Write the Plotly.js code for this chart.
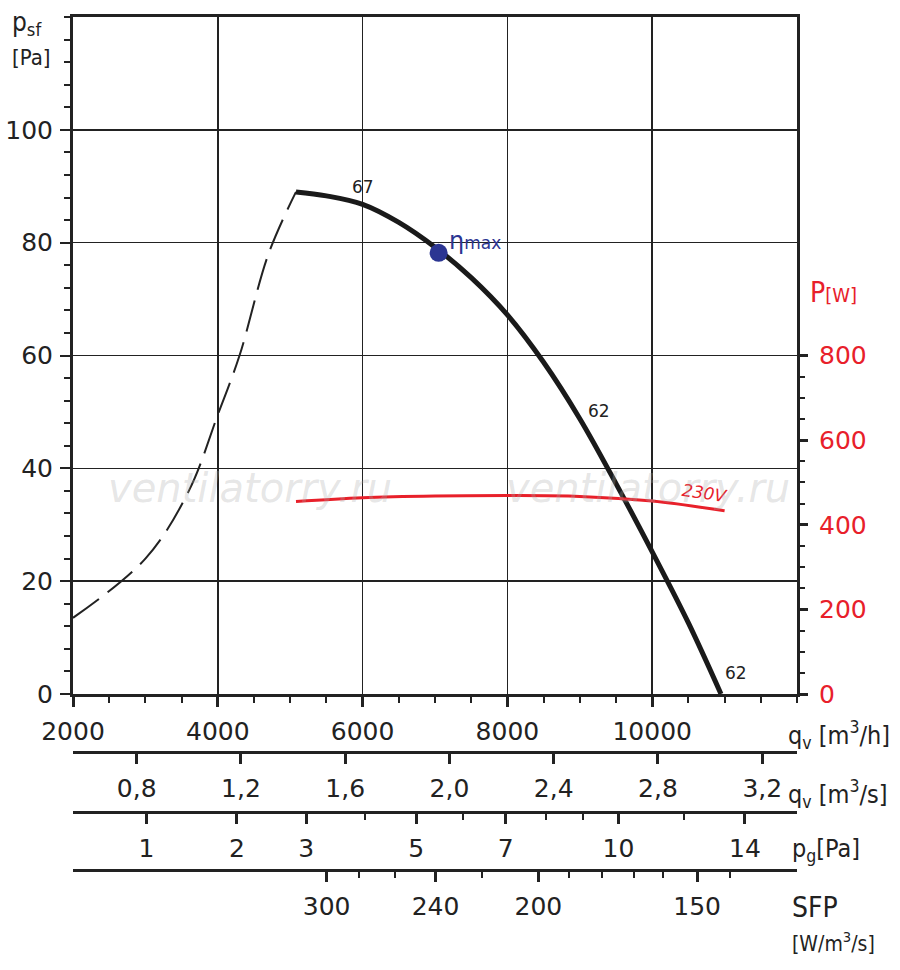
<!DOCTYPE html>
<html><head><meta charset="utf-8">
<script src="https://cdn.plot.ly/plotly-3.0.1.min.js"></script>
<style>body{margin:0;background:#fff}</style></head>
<body><div id="c" style="width:900px;height:970px"></div>
<script>
// pressure curve (solid, operating range)
const qvSolid = [5080, 5500, 6000, 6500, 7000, 7500, 8000, 8500, 9000, 9500, 10000, 10500, 10950];
const psfSolid = [89, 88.3, 86.8, 83.6, 79.2, 73.8, 67.2, 58.8, 48.8, 37.3, 25.2, 12.6, 0];
// pressure curve (dashed, unstable range)
const qvDash = [2000, 3000, 3600, 4000, 4300, 4700, 5080];
const psfDash = [13.5, 24, 36, 49.5, 60, 78, 89];
// power curve 230V
const qvPow = [5080, 6000, 7000, 8000, 9000, 10000, 11000];
const powW = [455, 464, 468, 469, 467, 456, 433];
// eta max point
const etaQv = [7050], etaP = [78.2];
// main axis ticks
const qvMain = [2000, 4000, 6000, 8000, 10000];
// secondary scales
const qvSecTicks = [0.8, 1.2, 1.6, 2.0, 2.4, 2.8, 3.2];
const pgMajor = [1, 2, 3, 5, 7, 10, 14];
const pgMinor = [4, 6, 8, 9, 12];
const pgK = 3015; // qv[m3/h] = pgK*sqrt(pg)
const sfpMajor = [300, 240, 200, 150];
const sfpMajorQv = [5503, 7007, 8428, 10621];
const sfpMinorQv = [5945, 6441, 7655, 8855, 9310, 9752, 10152, 11076];

const F = '"DejaVu Sans", sans-serif';
const FC = '"DejaVu Sans Condensed", "DejaVu Sans", sans-serif';
const dark = '#222';
const red = '#e8202a';
const H = 970, T = 17, B = 10, PH = H - T - B;
const py = p => (H - B - p) / PH;
const px = p => (p - 73) / 724;

const data = [
  {x: qvDash, y: psfDash, mode: 'lines', line: {color: dark, width: 2, dash: '32px,11px', shape: 'spline'}, hoverinfo: 'skip'},
  {x: qvSolid, y: psfSolid, mode: 'lines', line: {color: '#1a1a1a', width: 5, shape: 'spline'}, hoverinfo: 'skip'},
  {x: qvPow, y: powW, yaxis: 'y2', mode: 'lines', line: {color: red, width: 3, shape: 'spline'}, hoverinfo: 'skip'},
  {x: etaQv, y: etaP, mode: 'markers', marker: {color: '#2b3592', size: 18}, hoverinfo: 'skip'},
  {x: [2000, 12000], y: [null, null], xaxis: 'x2', mode: 'lines', hoverinfo: 'skip'},
  {x: [2000, 12000], y: [null, null], xaxis: 'x3', mode: 'lines', hoverinfo: 'skip'},
  {x: [2000, 12000], y: [null, null], xaxis: 'x4', mode: 'lines', hoverinfo: 'skip'}
];

const tf = {family: F, size: 25, color: dark};
function secAxis(pos, vals, text, minorVals) {
  const a = {overlaying: 'x', anchor: 'free', position: pos, range: [2000, 12000], showgrid: false,
    zeroline: false, showline: true, linewidth: 3, linecolor: dark, ticks: 'outside', ticklen: 10,
    tickwidth: 3, tickcolor: dark, tickmode: 'array', tickvals: vals, ticktext: text,
    tickfont: tf, ticklabelstandoff: 3, fixedrange: true};
  if (minorVals) a.minor = {tickmode: 'array', tickvals: minorVals, ticks: 'outside', ticklen: 6, tickwidth: 2, tickcolor: dark, showgrid: false};
  return a;
}
const pwMinor = [];
for (let v = 50; v <= 750; v += 50) if (v % 200) pwMinor.push(v);

function ann(x, y, text, size, color, extra) {
  return Object.assign({x: px(x), y: py(y), xref: 'paper', yref: 'paper', xanchor: 'left', yanchor: 'middle',
    text: text, showarrow: false, font: {family: FC, size: size, color: color || dark}}, extra || {});
}

const layout = {
  width: 900, height: 970, margin: {l: 73, r: 103, t: T, b: B},
  paper_bgcolor: '#fff', plot_bgcolor: '#fff', showlegend: false,
  xaxis: {range: [2000, 12000], tickmode: 'array', tickvals: qvMain, showgrid: true, gridcolor: dark, gridwidth: 1.5,
    zeroline: false, showline: true, mirror: true, linewidth: 3, linecolor: dark, ticks: 'outside',
    ticklen: 10, tickwidth: 3, tickcolor: dark, tickfont: tf, ticklabelstandoff: 3,
    tickformat: 'd', fixedrange: true,
    minor: {tickmode: 'linear', tick0: 2000, dtick: 500, ticks: 'outside', ticklen: 6, tickwidth: 2, tickcolor: dark, showgrid: false}},
  yaxis: {domain: [py(694), 1], range: [0, 120], tickmode: 'array', tickvals: [0, 20, 40, 60, 80, 100],
    showgrid: true, gridcolor: dark, gridwidth: 1.5, zeroline: false, showline: true, linewidth: 3,
    linecolor: dark, ticks: 'outside', ticklen: 10, tickwidth: 2, tickcolor: dark, tickfont: tf,
    ticklabelstandoff: 2, fixedrange: true,
    minor: {dtick: 4, ticks: 'outside', ticklen: 6, tickwidth: 2, tickcolor: dark, showgrid: false}},
  yaxis2: {overlaying: 'y', side: 'right', range: [0, 1600], tickmode: 'array', tickvals: [0, 200, 400, 600, 800],
    showgrid: false, zeroline: false, showline: true, linewidth: 3, linecolor: dark, ticks: 'outside',
    ticklen: 8, tickwidth: 3, tickcolor: dark, tickfont: {family: F, size: 25, color: red},
    ticklabelstandoff: 6, fixedrange: true,
    minor: {tickmode: 'array', tickvals: pwMinor, ticks: 'outside', ticklen: 5, tickwidth: 2, tickcolor: dark, showgrid: false}},
  xaxis2: secAxis(py(752), qvSecTicks.map(v => v * 3600), qvSecTicks.map(v => v.toFixed(1).replace('.', ','))),
  xaxis3: secAxis(py(812), pgMajor.map(v => pgK * Math.sqrt(v)), pgMajor.map(String), pgMinor.map(v => pgK * Math.sqrt(v))),
  xaxis4: secAxis(py(870), sfpMajorQv, sfpMajor.map(String), sfpMinorQv),
  annotations: [
    {x: 6000, y: 89.8, xref: 'x', yref: 'y', text: '67', showarrow: false, font: {family: F, size: 17, color: dark}},
    {x: 9269, y: 50.2, xref: 'x', yref: 'y', text: '62', showarrow: false, font: {family: F, size: 17, color: dark}},
    {x: 11159, y: 3.7, xref: 'x', yref: 'y', text: '62', showarrow: false, font: {family: F, size: 17, color: dark}},
    {x: 7170, y: 80.3, xref: 'x', yref: 'y', xanchor: 'left', yanchor: 'middle', text: 'η<span style="font-size:17px">max</span>', showarrow: false, font: {family: F, size: 24, color: '#2b3592'}},
    {x: 10717, y: 476, xref: 'x', yref: 'y2', xanchor: 'center', yanchor: 'middle', text: '230V', textangle: 8, showarrow: false, font: {family: F, size: 17, color: red, style: 'italic'}},
    {x: px(250), y: py(488), xref: 'paper', yref: 'paper', xanchor: 'center', yanchor: 'middle', text: 'ventilatorry.ru', showarrow: false, font: {family: F, size: 40, color: 'rgba(170,170,170,0.3)', style: 'italic'}},
    {x: px(648), y: py(488), xref: 'paper', yref: 'paper', xanchor: 'center', yanchor: 'middle', text: 'ventilatorry.ru', showarrow: false, font: {family: F, size: 40, color: 'rgba(170,170,170,0.3)', style: 'italic'}},
    ann(10, 24, 'p<sub>sf</sub>', 26),
    ann(10, 57, '[Pa]', 22),
    ann(808, 292, 'P<span style="font-size:20px">[W]</span>', 28, red),
    ann(786, 735, 'q<sub>v</sub> [m<sup>3</sup>/h]', 25),
    ann(786, 794, 'q<sub>v</sub> [m<sup>3</sup>/s]', 25),
    ann(790, 850, 'p<sub>g</sub>[Pa]', 25),
    ann(790, 907, 'SFP', 28),
    ann(790, 942, '[W/m<sup>3</sup>/s]', 21)
  ]
};
Plotly.newPlot('c', data, layout, {staticPlot: true});
</script></body></html>
